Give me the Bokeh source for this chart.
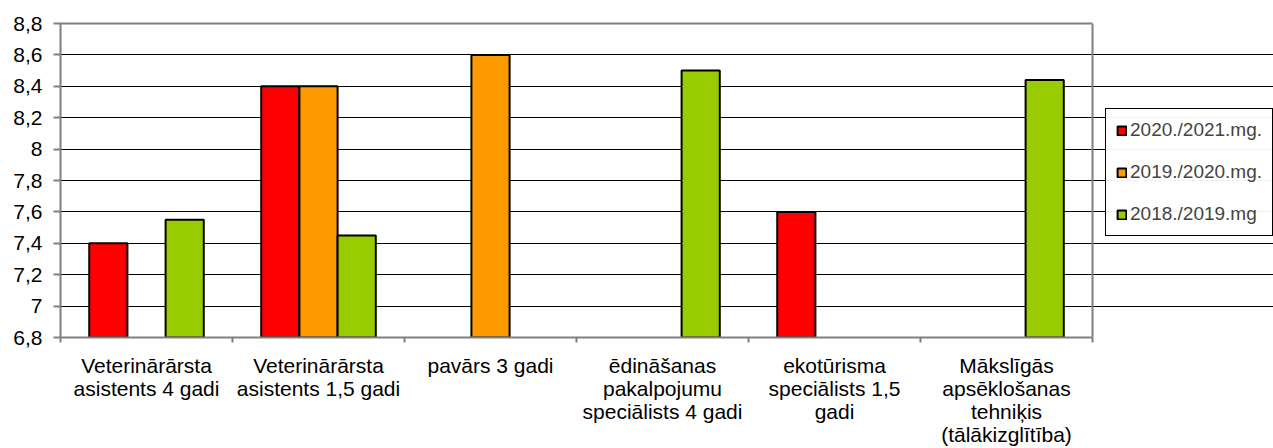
from bokeh.plotting import figure
from bokeh.models import (Range1d, FixedTicker, Legend, LegendItem, ColumnDataSource,
                          LinearAxis, Span)
from bokeh.embed import file_html
from bokeh.resources import INLINE

categories = [
    "Veterinārārsta\nasistents 4 gadi",
    "Veterinārārsta\nasistents 1,5 gadi",
    "pavārs 3 gadi",
    "ēdināšanas\npakalpojumu\nspeciālists 4 gadi",
    "ekotūrisma\nspeciālists 1,5\ngadi",
    "Mākslīgās\napsēklošanas\ntehniķis\n(tālākizglītība)",
]
series_names = ["2020./2021.mg.", "2019./2020.mg.", "2018./2019.mg"]
values_2021 = [7.4, 8.4, None, None, 7.6, None]
values_2020 = [None, 8.4, 8.6, None, None, None]
values_2019 = [7.55, 7.45, None, 8.5, None, 8.44]
series_colors = ["#FF0000", "#FF9900", "#99CC00"]

ytick_values = [6.8, 7.0, 7.2, 7.4, 7.6, 7.8, 8.0, 8.2, 8.4, 8.6, 8.8]
ytick_labels = ["6,8", "7", "7,2", "7,4", "7,6", "7,8", "8", "8,2", "8,4", "8,6", "8,8"]

FONT = "Liberation Sans"
GRAY = "#808080"

W, H = 1273, 448
LEFT, TOP, BOTTOM = 60, 23, 109
plot_px = 1032                      # width of the bar area in pixels
frame_px = W - LEFT                 # frame extends under the legend
n = len(categories)
x_end = n * frame_px / plot_px

p = figure(width=W, height=H, output_backend="svg", toolbar_location=None,
           x_range=Range1d(0, x_end), y_range=Range1d(6.8, 8.8),
           min_border_left=LEFT, min_border_top=TOP, min_border_bottom=BOTTOM,
           min_border_right=0)
p.background_fill_color = "white"
p.border_fill_color = "white"
p.outline_line_color = None

bar_w = 0.222
offsets = [-0.222, 0.0, 0.222]
renderers = []
for vals, off, col in zip([values_2021, values_2020, values_2019], offsets, series_colors):
    xs = [i + 0.5 + off for i, v in enumerate(vals) if v is not None]
    tops = [v for v in vals if v is not None]
    src = ColumnDataSource(dict(x=xs, top=tops))
    r = p.vbar(x="x", top="top", bottom=6.8, width=bar_w, source=src,
               fill_color=col, line_color="black", line_width=2)
    renderers.append(r)

# x axis
centers = [i + 0.5 for i in range(n)]
bounds = list(range(n + 1))
p.xaxis.bounds = (0, n)
p.xaxis.ticker = FixedTicker(ticks=centers, minor_ticks=bounds)
p.xaxis.major_label_overrides = {c: lab for c, lab in zip(centers, categories)}
p.xaxis.major_tick_out = 0
p.xaxis.major_tick_in = 0
p.xaxis.minor_tick_out = 5
p.xaxis.minor_tick_in = 0
p.xaxis.minor_tick_line_color = GRAY
p.xaxis.minor_tick_line_width = 2
p.xaxis.axis_line_color = GRAY
p.xaxis.axis_line_width = 2
p.xaxis.major_label_text_font = FONT
p.xaxis.major_label_text_font_size = "21px"
p.xaxis.major_label_text_line_height = 1.0
p.xaxis.major_label_text_color = "black"
p.xaxis.major_label_standoff = 11
p.xgrid.visible = False

# top border as an unlabeled axis
top_axis = LinearAxis(bounds=(0, n), ticker=FixedTicker(ticks=[]),
                      axis_line_color=GRAY, axis_line_width=2,
                      major_tick_line_color=None, minor_tick_line_color=None,
                      major_label_text_font_size="0px")
p.add_layout(top_axis, "above")
# right border of the bar area
p.add_layout(Span(location=n, dimension="height", line_color=GRAY, line_width=2))

# y axis
p.yaxis.ticker = FixedTicker(ticks=ytick_values)
p.ygrid.ticker = FixedTicker(ticks=ytick_values)
p.yaxis.major_label_overrides = {v: lab for v, lab in zip(ytick_values, ytick_labels)}
p.yaxis.major_tick_out = 7
p.yaxis.major_tick_in = 0
p.yaxis.minor_tick_line_color = None
p.yaxis.major_tick_line_color = GRAY
p.yaxis.major_tick_line_width = 2
p.yaxis.axis_line_color = GRAY
p.yaxis.axis_line_width = 2
p.yaxis.major_label_text_font = FONT
p.yaxis.major_label_text_font_size = "21px"
p.yaxis.major_label_text_color = "black"
p.yaxis.major_label_standoff = 11
p.ygrid.grid_line_color = "black"
p.ygrid.grid_line_width = 1
p.ygrid.bounds = (0, n)

legend = Legend(items=[LegendItem(label=s, renderers=[r]) for s, r in zip(series_names, renderers)],
                location=(1105 - LEFT, 339 - 238), border_line_color="black",
                border_line_width=1, border_line_alpha=1.0,
                padding=10, spacing=20, label_height=21, glyph_height=11, glyph_width=11,
                label_standoff=3, label_text_font=FONT, label_text_font_size="19px",
                margin=0, background_fill_color="white")
p.add_layout(legend, "center")

open("out.html", "w").write(file_html(p, INLINE))
